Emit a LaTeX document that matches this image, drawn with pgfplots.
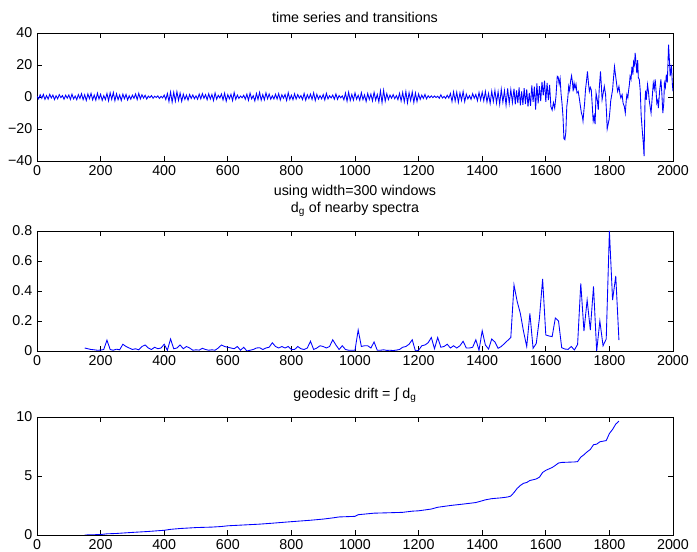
\documentclass[border=0pt]{standalone}
\usepackage{fontspec}
\setmainfont{Liberation Sans}
\usepackage{pgfplots}
\pgfplotsset{compat=1.18}

\definecolor{mblue}{rgb}{0,0,1}

\pgfplotsset{
  mstyle/.style={
    scale only axis,
    width=477pt,
    xmin=0, xmax=2000,
    xtick={0,200,...,2000},
    tick align=inside,
    major tick length=3.75pt,
    axis line style={line width=0.7pt},
    every tick/.style={line width=0.6pt, black},
    tick label style={font=\fontsize{10.7}{12}\selectfont},
    title style={font=\fontsize{10.7}{12.8}\selectfont, align=center, yshift=1pt},
    /pgf/number format/assume math mode=true,
    /pgf/number format/1000 sep={},
    scaled ticks=false,
    no markers,
  },
  mline/.style={draw=mblue, line width=0.65pt, mark=none},
}

\begin{document}
\begin{tikzpicture}

% --- top: raw series ---
\begin{axis}[mstyle,
  at={(27.75pt,-120.75pt)}, anchor=south west,
  height=96pt,
  ymin=-40, ymax=40,
  ytick={-40,-20,0,20,40},
  yticklabels={−40,−20,0,20,40},
  title={time series and transitions},
  title style={yshift=-2.5pt},
]
\addplot[mline] coordinates {
(0,0.5)(5,-1.2)(10,1.4)(15,-0.8)(20,1.6)(25,-1.5)(30,0.9)(35,-1.3)(40,1.7)(45,-0.6)
(50,1.2)(55,-1.6)(60,0.8)(65,-1.1)(70,1.5)(75,-0.4)(80,0.9)(85,-1.4)(90,1.1)(95,-0.7)
(100,1.3)(105,-1.5)(110,1.8)(115,-1.2)(120,0.6)(125,-1.7)(130,1.5)(135,-0.9)(140,2.1)(145,-1.6)
(150,1.4)(155,-2.2)(160,1.9)(165,-1.0)(170,2.3)(175,-1.8)(180,1.2)(185,-2.0)(190,2.4)(195,-1.3)
(200,1.7)(205,-2.1)(210,0.9)(215,-1.6)(220,2.2)(225,-2.4)(230,2.6)(235,-1.5)(240,2.8)(245,-2.3)
(250,2.0)(255,-1.7)(260,1.3)(265,-2.2)(270,1.8)(275,-1.1)(280,1.6)(285,-1.9)(290,0.8)(295,-1.4)
(300,1.2)(305,-0.8)(310,1.9)(315,-1.6)(320,2.3)(325,-1.2)(330,1.4)(335,-0.7)(340,1.1)(345,-1.3)
(350,0.6)(355,-0.4)(360,0.9)(365,-0.8)(370,0.5)(375,-0.3)(380,0.7)(385,-0.9)(390,0.4)(395,-0.6)
(400,1.2)(405,-1.6)(410,2.2)(415,-2.8)(420,3.1)(425,-3.2)(430,2.9)(435,-2.6)(440,3.3)(445,-2.1)
(450,2.4)(455,-2.7)(460,1.8)(465,-1.5)(470,1.2)(475,-2.0)(480,1.6)(485,-0.9)(490,1.3)(495,-1.1)
(500,0.7)(505,-1.4)(510,1.8)(515,-1.2)(520,2.1)(525,-0.8)(530,1.5)(535,-1.7)(540,2.0)(545,-1.3)
(550,1.6)(555,-2.2)(560,2.5)(565,-1.4)(570,1.1)(575,-0.6)(580,1.9)(585,-1.8)(590,2.4)(595,-2.6)
(600,1.5)(605,-1.1)(610,1.7)(615,-2.3)(620,2.8)(625,-1.5)(630,1.2)(635,-0.9)(640,0.6)(645,-0.5)
(650,1.1)(655,-1.4)(660,1.8)(665,-2.1)(670,2.4)(675,-1.2)(680,0.8)(685,-2.5)(690,2.2)(695,-1.6)
(700,2.9)(705,-2.0)(710,1.5)(715,-1.8)(720,2.6)(725,-1.1)(730,1.9)(735,-1.4)(740,0.8)(745,-1.2)
(750,1.7)(755,-1.3)(760,2.1)(765,-1.9)(770,1.4)(775,-0.8)(780,1.6)(785,-2.2)(790,2.7)(795,-1.5)
(800,1.1)(805,-1.7)(810,2.0)(815,-1.3)(820,1.5)(825,-0.7)(830,0.9)(835,-1.6)(840,2.2)(845,-2.0)
(850,1.4)(855,-1.0)(860,1.8)(865,-1.5)(870,2.6)(875,-2.2)(880,1.7)(885,-1.3)(890,0.9)(895,-1.1)
(900,1.5)(905,-1.9)(910,2.3)(915,-1.2)(920,0.8)(925,-0.6)(930,1.2)(935,-1.4)(940,1.9)(945,-1.5)
(950,0.9)(955,-0.5)(960,0.7)(965,-1.8)(970,2.4)(975,-2.6)(980,3.0)(985,-2.2)(990,1.6)(995,-1.9)
(1000,2.5)(1005,-1.4)(1010,1.1)(1015,-2.1)(1020,2.7)(1025,-1.6)(1030,1.3)(1035,-2.8)(1040,2.2)(1045,-1.5)
(1050,1.8)(1055,-2.4)(1060,2.9)(1065,-2.0)(1070,1.6)(1075,-3.1)(1080,3.8)(1085,-3.5)(1090,4.2)(1095,-2.6)
(1100,2.1)(1105,-1.6)(1110,1.2)(1115,-0.8)(1120,1.5)(1125,-1.1)(1130,0.9)(1135,-1.7)(1140,2.3)(1145,-2.5)
(1150,2.8)(1155,-3.0)(1160,3.4)(1165,-3.6)(1170,2.7)(1175,-2.2)(1180,3.1)(1185,-3.4)(1190,2.5)(1195,-2.8)
(1200,1.9)(1205,-1.5)(1210,1.2)(1215,-0.9)(1220,1.6)(1225,-1.2)(1230,0.8)(1235,-0.5)(1240,0.7)(1245,-0.4)
(1250,0.6)(1255,-0.3)(1260,0.5)(1265,-0.8)(1270,1.4)(1275,-0.6)(1280,0.4)(1285,-0.9)(1290,1.1)(1295,-0.7)
(1300,2.2)(1305,-2.8)(1310,3.2)(1315,-2.5)(1320,3.0)(1325,-3.3)(1330,2.6)(1335,-2.1)(1340,3.4)(1345,-2.9)
(1350,1.8)(1355,-1.2)(1360,0.9)(1365,-1.5)(1370,2.1)(1375,-0.8)(1380,1.6)(1385,-2.3)(1390,2.8)(1395,-1.9)
(1400,3.0)(1405,-2.4)(1410,3.5)(1415,-3.1)(1420,2.2)(1425,-4.0)(1430,3.6)(1435,-2.8)(1440,4.1)(1445,-3.7)
(1450,3.3)(1455,-4.5)(1460,4.8)(1465,-3.2)(1470,3.9)(1475,-5.1)(1480,5.4)(1485,-4.0)(1490,4.6)(1495,-3.5)
(1500,5.2)(1504,-4.6)(1508,4.1)(1512,-3.8)(1516,6.0)(1520,-5.2)(1524,3.5)(1528,-4.9)(1532,5.6)(1536,-4.4)
(1540,4.8)(1544,-6.0)(1548,2.5)(1552,-5.5)(1556,7.2)(1560,-3.0)(1564,6.5)(1568,-7.8)(1572,8.5)(1576,-4.0)
(1580,6.8)(1584,-2.5)(1588,9.5)(1592,1.0)(1596,10.2)(1600,-3.0)(1604,8.8)(1608,-2.0)(1612,7.5)(1616,-6.0)
(1620,-8.2)(1624,-3.5)(1628,-7.0)(1632,0.5)(1636,13.0)(1639,12.5)(1642,8.0)(1645,11.5)(1648,2.0)(1651,-4.0)
(1654,-12.0)(1657,-26.0)(1660,-26.7)(1663,-22.0)(1666,-6.0)(1669,-1.0)(1672,6.7)(1675,4.0)(1678,10.0)(1681,13.3)
(1684,9.0)(1686,3.5)(1689,8.7)(1692,5.5)(1695,8.0)(1698,2.5)(1702,3.5)(1706,-1.7)(1709,-6.0)(1712,-10.0)
(1715,-12.0)(1717,-15.0)(1720,-8.0)(1722,-4.0)(1725,5.0)(1728,10.0)(1731,16.0)(1734,9.0)(1737,3.5)(1740,6.0)
(1743,4.5)(1746,-5.0)(1749,-15.0)(1752,-12.0)(1755,-17.0)(1758,2.5)(1762,-2.0)(1765,-8.0)(1768,5.0)(1772,16.0)
(1775,6.0)(1777,-1.7)(1781,3.0)(1784,6.7)(1788,1.5)(1791,-10.0)(1793,-20.0)(1796,-17.0)(1799,-14.0)(1802,-8.0)
(1804,-2.6)(1807,1.0)(1810,4.6)(1813,12.0)(1816,19.0)(1819,14.0)(1821,11.0)(1824,6.0)(1826,3.5)(1830,6.7)
(1833,2.0)(1836,-0.6)(1840,1.5)(1843,-3.8)(1847,-6.0)(1850,-10.0)(1853,-2.0)(1855,1.5)(1858,-0.5)(1860,3.5)
(1863,8.0)(1865,13.0)(1868,11.0)(1871,19.0)(1874,14.0)(1876,22.0)(1879,20.0)(1881,27.5)(1884,21.0)(1886,15.0)
(1889,23.0)(1891,12.0)(1894,11.0)(1897,4.0)(1900,-12.0)(1904,-22.5)(1907,-30.0)(1909,-37.0)(1912,-2.0)(1914,4.0)
(1916,-1.7)(1920,7.7)(1923,3.0)(1925,-1.7)(1928,-6.0)(1931,-10.0)(1934,-2.0)(1938,8.7)(1941,5.0)(1944,11.0)
(1947,3.0)(1949,-3.8)(1952,-2.0)(1954,-7.0)(1958,4.0)(1962,11.0)(1965,2.0)(1968,-10.0)(1971,-4.0)(1973,8.7)
(1976,6.0)(1979,14.0)(1982,9.0)(1984,20.0)(1986,32.7)(1989,22.0)(1991,13.0)(1993,16.0)(1995,20.0)(1998,8.0)
(2000,3.5)
};
\end{axis}

% --- middle: d_g of nearby spectra ---
\begin{axis}[mstyle,
  at={(27.75pt,-263.25pt)}, anchor=south west,
  height=90pt,
  ymin=0, ymax=0.8,
  ytick={0,0.2,0.4,0.6,0.8},
  yticklabels={0,0.2,0.4,0.6,0.8},
  title={using width=300 windows\\d\textsubscript{g} of nearby spectra},
]
\addplot[mline] coordinates {
(150,0.02)(160,0.015)(170,0.01)(180,0.008)(190,0.005)(200,0.006)(210,0.01)(220,0.073)(230,0.01)(240,0.005)
(250,0.012)(260,0.008)(270,0.045)(280,0.03)(290,0.02)(300,0.01)(310,0.015)(320,0.008)(330,0.03)(340,0.04)
(350,0.02)(360,0.01)(370,0.025)(380,0.015)(390,0.02)(400,0.045)(410,0.005)(420,0.08)(430,0.015)(440,0.02)
(450,0.04)(460,0.015)(470,0.03)(480,0.02)(490,0.005)(500,0.008)(510,0.006)(520,0.018)(530,0.01)(540,0.005)
(550,0.008)(560,0.005)(570,0.02)(580,0.04)(590,0.03)(600,0.025)(610,0.02)(620,0.015)(630,0.03)(640,0.005)
(650,0.025)(660,0.0)(670,0.005)(680,0.01)(690,0.02)(700,0.022)(710,0.01)(720,0.02)(730,0.025)(740,0.055)
(750,0.03)(760,0.02)(770,0.03)(780,0.02)(790,0.03)(800,0.01)(810,0.01)(820,0.03)(830,0.015)(840,0.01)
(850,0.02)(860,0.065)(870,0.01)(880,0.02)(890,0.035)(900,0.03)(910,0.02)(920,0.03)(930,0.075)(940,0.04)
(950,0.01)(960,0.035)(970,0.01)(980,0.005)(990,0.005)(1000,0.005)(1010,0.14)(1020,0.03)(1030,0.035)(1040,0.035)
(1050,0.02)(1060,0.06)(1070,0.005)(1080,0.005)(1090,0.008)(1100,0.004)(1110,0.005)(1120,0.003)(1130,0.006)(1140,0.01)
(1150,0.025)(1160,0.03)(1170,0.045)(1180,0.075)(1190,0.0)(1200,0.005)(1210,0.035)(1220,0.04)(1230,0.055)(1240,0.09)
(1250,0.015)(1260,0.09)(1270,0.025)(1280,0.03)(1290,0.045)(1300,0.02)(1310,0.035)(1320,0.02)(1330,0.035)(1340,0.065)
(1350,0.02)(1360,0.02)(1370,0.025)(1380,0.075)(1390,0.005)(1400,0.135)(1410,0.04)(1420,0.013)(1430,0.08)(1440,0.06)
(1450,0.018)(1460,0.03)(1470,0.05)(1480,0.07)(1490,0.09)(1500,0.44)(1510,0.33)(1520,0.25)(1530,0.13)(1540,0.03)
(1550,0.25)(1560,0.018)(1570,0.05)(1580,0.22)(1590,0.48)(1600,0.107)(1610,0.1)(1620,0.096)(1630,0.22)(1640,0.2)
(1650,0.022)(1660,0.013)(1670,0.011)(1680,0.03)(1690,0.007)(1700,0.044)(1710,0.45)(1720,0.133)(1730,0.34)(1740,0.14)
(1750,0.43)(1760,0.0)(1770,0.2)(1780,0.035)(1790,0.08)(1800,0.8)(1810,0.34)(1820,0.5)(1830,0.073)
};
\end{axis}

% --- bottom: geodesic drift ---
\begin{axis}[mstyle,
  at={(27.75pt,-401.25pt)}, anchor=south west,
  height=88.5pt,
  ymin=0, ymax=10,
  ytick={0,5,10},
  title={geodesic drift = ∫ d\textsubscript{g}},
]
\addplot[mline] coordinates {
(150,0)(200,0.04)(220,0.1)(250,0.13)(300,0.22)(350,0.3)(400,0.4)(420,0.48)(450,0.55)(500,0.63)
(550,0.67)(580,0.72)(600,0.78)(650,0.85)(700,0.92)(740,1.0)(800,1.13)(860,1.25)(900,1.35)(930,1.45)
(950,1.53)(1000,1.58)(1010,1.72)(1060,1.85)(1100,1.88)(1150,1.92)(1180,2.02)(1200,2.05)(1240,2.2)(1260,2.35)
(1300,2.5)(1340,2.62)(1380,2.75)(1400,2.9)(1410,2.98)(1430,3.08)(1460,3.15)(1480,3.22)(1490,3.30)
(1500,3.60)(1510,3.95)(1520,4.20)(1530,4.38)(1540,4.45)(1550,4.62)(1560,4.68)(1570,4.75)(1580,4.90)
(1590,5.30)(1600,5.48)(1610,5.60)(1620,5.72)(1630,5.90)(1640,6.10)(1650,6.15)(1660,6.16)(1670,6.17)
(1680,6.18)(1690,6.19)(1700,6.22)(1710,6.60)(1720,6.80)(1730,7.05)(1740,7.25)(1750,7.65)(1760,7.70)
(1770,7.90)(1780,7.95)(1790,8.00)(1800,8.60)(1810,8.95)(1820,9.40)(1830,9.65)
};
\end{axis}

\pgfresetboundingbox
\path[use as bounding box] (0pt,0pt) rectangle (522.75pt,-414pt);
\end{tikzpicture}
\end{document}
